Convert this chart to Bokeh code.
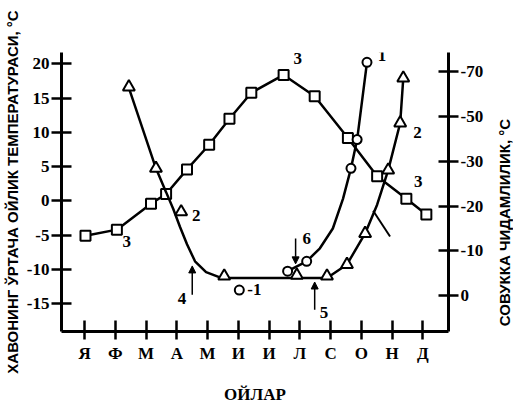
import numpy as np
from bokeh.plotting import figure
from bokeh.layouts import row
from bokeh.models import Range1d, LinearAxis, FixedTicker, Label, Arrow, NormalHead
from bokeh.embed import file_html
from bokeh.resources import INLINE

# ---------------- data ----------------
months = ["Я", "Ф", "М", "А", "М", "И", "И", "Л", "С", "О", "Н", "Д"]
month_pos = list(range(1, 13))
temp_ticks = [-15, -10, -5, 0, 5, 10, 15, 20]
hard_ticks = [0, -10, -20, -30, -50, -70]

# curve 3: mean monthly air temperature (left axis, °C)
air_x = [1.03, 2.05, 3.16, 3.65, 4.33, 5.05, 5.71, 6.42, 7.47, 8.48, 9.56, 10.51, 11.46, 12.11]
air_t = [-5.1, -4.2, -0.4, 1.0, 4.6, 8.2, 12.0, 15.8, 18.4, 15.3, 9.2, 3.6, 0.3, -2.0]

# curve 2: frost hardiness (right axis, °C) - markers
c2_x = [2.44, 3.32, 4.14, 5.54, 7.90, 8.88, 9.53, 10.12, 10.87, 11.26, 11.36]
c2_h = [-63.0, -28.4, -18.7, -4.4, -4.6, -4.4, -7.0, -13.9, -28.0, -47.0, -67.0]
# curve 2 path
c2_path_x = [2.44, 3.32, 3.65, 3.88, 4.10, 4.33, 4.59, 4.95, 5.44, 8.88, 9.53, 10.12, 10.51, 10.87, 11.26, 11.36]
c2_path_h = [-62.6, -28.4, -23.1, -19.4, -15.4, -11.5, -7.7, -5.3, -4.0, -4.0, -7.0, -13.9, -20.3, -28.0, -47.0, -67.0]

# curve 1: frost hardiness (right axis, °C) - markers
c1_x = [6.03, 7.60, 8.22, 9.66, 9.86, 10.18]
c1_h = [-1.3, -5.5, -7.7, -28.4, -39.6, -74.0]
# curve 1 path
c1_path_x = [7.60, 8.22, 8.65, 9.07, 9.40, 9.66, 9.86, 10.18]
c1_path_h = [-5.5, -7.7, -10.6, -15.0, -21.6, -28.4, -39.6, -74.0]

# right axis is non-uniform: equal spacing between its labelled ticks
hard_scale_vals = [-90, -70, -50, -30, -20, -10, 0]
hard_scale_pos = [6, 5, 4, 3, 2, 1, 0]


def hpos(h):
    return np.interp(h, hard_scale_vals, hard_scale_pos)


SERIF = "Liberation Serif"
SANS = "Liberation Sans"
H = 406

p = figure(width=488, height=H, output_backend="svg", toolbar_location=None,
           x_range=Range1d(0.25, 12.83), y_range=Range1d(-19.08, 21.68),
           min_border_left=55, min_border_right=40, min_border_top=52, min_border_bottom=72)
p.frame_align = False
p.outline_line_color = None
p.xgrid.visible = False
p.ygrid.visible = False
p.extra_y_ranges = {"hard": Range1d(-0.793, 5.419)}

# left axis
ya = p.yaxis[0]
ya.ticker = FixedTicker(ticks=temp_ticks)
ya.major_label_overrides = {t: str(t) for t in temp_ticks}
ya.axis_label = "ХАВОНИНГ ЎРТАЧА ОЙЛИК ТЕМПЕРАТУРАСИ, °С"
ya.axis_label_text_font = SANS
ya.axis_label_text_font_size = "15px"
ya.axis_label_standoff = 3

# bottom axis
xa = p.xaxis[0]
xa.ticker = FixedTicker(ticks=month_pos)
xa.major_label_overrides = {m: lab for m, lab in zip(month_pos, months)}
xa.axis_label = "ОЙЛАР"
xa.axis_label_text_font = SERIF
xa.axis_label_text_font_size = "17px"
xa.axis_label_standoff = 19

# right axis
ra = LinearAxis(y_range_name="hard")
ra.ticker = FixedTicker(ticks=list(range(len(hard_ticks))))
ra.major_label_overrides = {i: str(h) for i, h in enumerate(hard_ticks)}
p.add_layout(ra, "right")

for ax in (ya, xa, ra):
    ax.axis_line_width = 3
    ax.axis_line_color = "black"
    ax.major_tick_line_width = 2.5
    ax.major_tick_line_color = "black"
    ax.minor_tick_line_color = None
    ax.major_label_text_font = SERIF
    ax.major_label_text_font_style = "bold"
    ax.major_label_text_font_size = "17px"
    ax.major_label_text_color = "black"
    ax.axis_label_text_color = "black"
    ax.axis_label_text_font_style = "bold"
for ax in (ya, ra):
    ax.major_tick_out = 10
    ax.major_tick_in = 10
    ax.major_label_standoff = 2
xa.major_tick_out = 8
xa.major_tick_in = 11
xa.major_label_standoff = 4

# curves
LW = 2.5
p.line(air_x, air_t, line_width=LW, color="black")
p.scatter(air_x, air_t, marker="square", size=10, fill_color="white", line_color="black", line_width=2)

p.line(c2_path_x, hpos(c2_path_h), y_range_name="hard", line_width=LW, color="black")
p.scatter(c2_x, hpos(c2_h), y_range_name="hard", marker="triangle", size=12,
          fill_color="white", line_color="black", line_width=2)

p.line(c1_path_x, hpos(c1_path_h), y_range_name="hard", line_width=LW, color="black")
p.scatter(c1_x, hpos(c1_h), y_range_name="hard", marker="circle", size=9,
          fill_color="white", line_color="black", line_width=2)

# curve labels
labels = [("3", 7.93, 20.8), ("1", 10.67, 21.2), ("2", 11.82, 10.0), ("3", 11.85, 2.9),
          ("2", 4.63, -2.2), ("3", 2.37, -5.9), ("4", 4.17, -14.2), ("-1", 6.52, -13.0),
          ("6", 8.22, -5.5), ("5", 8.78, -16.3)]
for txt, lx, ly in labels:
    p.add_layout(Label(x=lx, y=ly, text=txt, text_font=SERIF, text_font_style="bold",
                       text_font_size="17px", text_align="center", text_baseline="middle",
                       text_color="black"))

# arrows
for (x0, y0, x1, y1) in [(4.50, -13.7, 4.50, -9.5), (7.86, -5.5, 7.86, -9.2), (8.48, -15.9, 8.48, -11.85)]:
    p.add_layout(Arrow(end=NormalHead(size=7, fill_color="black", line_color="black"),
                       x_start=x0, y_start=y0, x_end=x1, y_end=y1, line_width=1.5, line_color="black"))
p.add_layout(Arrow(end=None, x_start=10.38, y_start=-1.45, x_end=10.93, y_end=-5.2,
                   line_width=2, line_color="black"))

# right-hand title (reads bottom-to-top) in a narrow side panel
side = figure(width=25, height=H, output_backend="svg", toolbar_location=None,
              x_axis_type=None, y_axis_type=None, min_border=0,
              x_range=Range1d(0, 1), y_range=Range1d(0, 1))
side.frame_align = False
side.outline_line_color = None
side.xgrid.visible = False
side.ygrid.visible = False
side.add_layout(Label(x=16, y=H - 222, x_units="screen", y_units="screen",
                      text="СОВУККА ЧИДАМЛИЛИК, °С", angle=np.pi / 2,
                      text_font=SANS, text_font_style="bold", text_font_size="15px",
                      text_align="center", text_baseline="middle", text_color="black"))

layout = row(p, side, spacing=0)
open("out.html", "w").write(file_html(layout, INLINE))
